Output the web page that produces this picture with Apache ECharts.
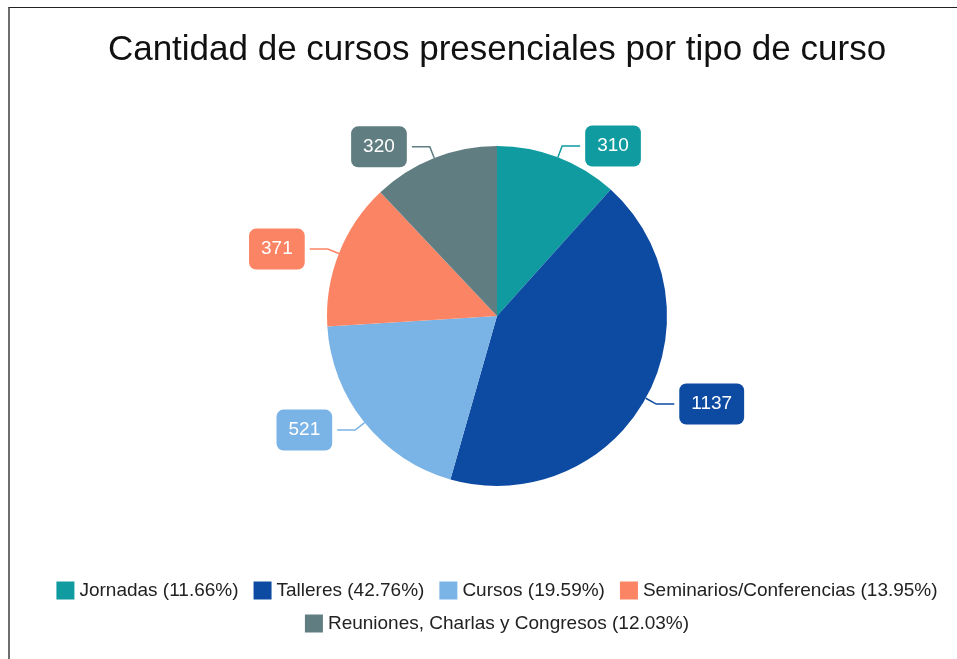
<!DOCTYPE html>
<html>
<head>
    <meta charset="utf-8" />
    <title>Cursos presenciales</title>
    <script src="https://cdn.jsdelivr.net/npm/echarts@6/dist/echarts.min.js"></script>
    <style>
        html, body { margin: 0; padding: 0; background: #fff; overflow: hidden; }
        #divChart {
            position: absolute; left: 8px; top: 7px;
            width: 974px; height: 670px;
            border-left: 2px solid #6e6e6e; border-top: 1px solid #222;
        }
    </style>
    <script>
        let names = ['Jornadas', 'Talleres', 'Cursos', 'Seminarios/Conferencias', 'Reuniones, Charlas y Congresos'];
        let values = [310, 1137, 521, 371, 320];
        let colors = ['#0f9ba0', '#0d4ba2', '#7ab3e6', '#fb8465', '#607e82'];

        window.onload = function () {
            InitChart();
        };

        function InitChart() {
            let total = values.reduce((a, b) => a + b, 0);
            let data = names.map((n, i) => ({
                name: n,
                value: values[i],
                itemStyle: { color: colors[i] },
                label: { backgroundColor: colors[i] },
                labelLine: { lineStyle: { color: colors[i] } }
            }));
            // leyenda en dos filas centradas
            let legendBase = {
                left: 'center',
                itemWidth: 18,
                itemHeight: 18,
                itemGap: 15,
                icon: 'rect',
                formatter: function (name) {
                    let v = values[names.indexOf(name)];
                    return name + ' (' + (v / total * 100).toFixed(2) + '%)';
                },
                textStyle: {
                    fontFamily: 'Liberation Sans',
                    fontSize: 19,
                    color: '#222'
                }
            };
            var option = {
                backgroundColor: '#fff',
                animation: false,
                title: {
                    text: 'Cantidad de cursos presenciales por tipo de curso',
                    left: 'center',
                    top: 20,
                    textStyle: {
                        fontFamily: 'Liberation Sans',
                        fontSize: 35,
                        fontWeight: 'normal',
                        color: '#111'
                    }
                },
                legend: [
                    Object.assign({}, legendBase, { data: names.slice(0, 4), top: 568 }),
                    Object.assign({}, legendBase, { data: names.slice(4), top: 601 })
                ],
                series: [{
                    type: 'pie',
                    center: [487, 308],
                    radius: 170,
                    startAngle: 90,
                    clockwise: true,
                    data: data,
                    label: {
                        show: true,
                        position: 'outside',
                        formatter: '{c}',
                        color: '#fff',
                        fontFamily: 'Liberation Sans',
                        fontSize: 19,
                        padding: [11, 12],
                        borderRadius: 7
                    },
                    labelLine: {
                        show: true,
                        length: 12,
                        length2: 18,
                        lineStyle: { width: 1.5 }
                    }
                }]
            };
            echarts.init(document.getElementById('divChart')).setOption(option);
        }
    </script>
</head>
<body>
    <div id="divChart"></div>
</body>
</html>
